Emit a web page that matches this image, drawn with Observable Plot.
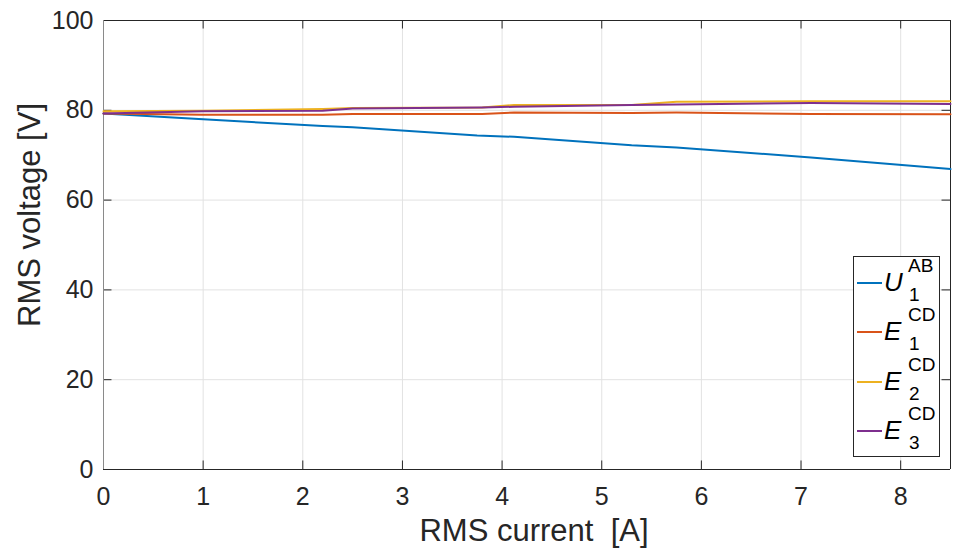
<!DOCTYPE html>
<html>
<head>
<meta charset="utf-8">
<script src="https://cdn.jsdelivr.net/npm/d3@7"></script>
<script src="https://cdn.jsdelivr.net/npm/@observablehq/plot@0.6"></script>
<style>
  body { margin: 0; background: #fff; }
  #wrap { position: relative; width: 961px; height: 553px; font-family: "Liberation Sans", Arial, sans-serif; }
  #legend { position: absolute; left: 853px; top: 256px; width: 87px; height: 201px; border: 1px solid #262626; background: #fff; box-sizing: border-box; }
  .item { position: absolute; left: 0; width: 85px; height: 50px; }
  .item .ln { position: absolute; left: 3px; width: 25px; height: 2px; top: 24px; }
  .item .sym { position: absolute; left: 30px; top: 9px; font-size: 26px; line-height: 30px; font-style: italic; color: #000; }
  .item .sup { position: absolute; left: 54px; top: -2px; font-size: 19px; line-height: 20px; color: #000; }
  .item .sub { position: absolute; left: 55px; top: 27px; font-size: 19px; line-height: 20px; color: #000; }
</style>
</head>
<body>
<div id="wrap"></div>
<script>
const xTicks = [0, 1, 2, 3, 4, 5, 6, 7, 8];
const yTicks = [0, 20, 40, 60, 80, 100];

const currentU = [0, 1, 2.2, 2.5, 3.75, 4.12, 5.3, 5.75, 7.1, 8.5];
const U1AB = [79.3, 78.0, 76.5, 76.2, 74.4, 74.1, 72.2, 71.7, 69.5, 66.9];

const currentE = [0, 1, 2.2, 2.5, 3.8, 4.12, 5.3, 5.75, 7.1, 8.5];
const E1CD = [79.3, 79.0, 79.0, 79.2, 79.2, 79.5, 79.4, 79.5, 79.2, 79.1];
const E2CD = [79.8, 79.9, 80.3, 80.5, 80.6, 81.2, 81.2, 81.9, 82.0, 82.0];
const E3CD = [79.3, 79.8, 79.9, 80.4, 80.6, 80.8, 81.2, 81.3, 81.6, 81.4];

const seriesNames = ["U1AB", "E1CD", "E2CD", "E3CD"];
const seriesColors = ["#0072BD", "#D95319", "#EDB120", "#7E2F8E"];
const legendSym = ["U", "E", "E", "E"];
const legendSup = ["AB", "CD", "CD", "CD"];
const legendSub = ["1", "1", "2", "3"];

const xLabel = "RMS current\u00a0\u00a0[A]";
const yLabel = "RMS voltage [V]";

const rows = [];
currentU.forEach((c, i) => rows.push({ s: "U1AB", x: c, y: U1AB[i] }));
currentE.forEach((c, i) => rows.push({ s: "E1CD", x: c, y: E1CD[i] }));
currentE.forEach((c, i) => rows.push({ s: "E2CD", x: c, y: E2CD[i] }));
currentE.forEach((c, i) => rows.push({ s: "E3CD", x: c, y: E3CD[i] }));

const axisColor = "#262626";
const chart = Plot.plot({
  width: 961, height: 553,
  marginLeft: 103, marginRight: 11, marginTop: 20, marginBottom: 84,
  style: { fontFamily: "Liberation Sans, Arial, sans-serif", background: "#fff", color: axisColor },
  x: { domain: [0, 8.5] },
  y: { domain: [0, 100] },
  color: { domain: seriesNames, range: seriesColors },
  marks: [
    Plot.ruleX(xTicks.slice(1), { stroke: "#e2e2e2", strokeWidth: 1 }),
    Plot.ruleY(yTicks.slice(1, -1), { stroke: "#e2e2e2", strokeWidth: 1 }),
    // inward tick marks
    Plot.ruleY(yTicks, { x1: 0, x2: 0.085, stroke: axisColor, strokeWidth: 1 }),
    Plot.ruleY(yTicks, { x1: 8.415, x2: 8.5, stroke: axisColor, strokeWidth: 1 }),
    Plot.ruleX(xTicks, { y1: 0, y2: 1.9, stroke: axisColor, strokeWidth: 1 }),
    Plot.ruleX(xTicks, { y1: 98.1, y2: 100, stroke: axisColor, strokeWidth: 1 }),
    // box
    Plot.ruleY([0, 100], { stroke: axisColor, strokeWidth: 1 }),
    Plot.ruleX([8.5], { stroke: axisColor, strokeWidth: 1 }),
    Plot.ruleX([0], { stroke: "#8a8a8a", strokeWidth: 1 }),
    Plot.line(rows, { x: "x", y: "y", z: "s", stroke: "s", strokeWidth: 2 }),
    Plot.axisX(xTicks, { tickSize: 0, tickPadding: 18, fontSize: 25, label: null, fill: axisColor }),
    Plot.axisY(yTicks, { tickSize: 0, tickPadding: 10, fontSize: 25, label: null, fill: axisColor }),
    Plot.text([xLabel], { frameAnchor: "bottom", lineAnchor: "middle", dx: 7, dy: 62, fontSize: 31, fill: axisColor }),
    Plot.text([yLabel], { frameAnchor: "left", textAnchor: "middle", lineAnchor: "middle", dx: -73, dy: -30, rotate: -90, fontSize: 31, fill: axisColor })
  ]
});
const wrap = document.getElementById("wrap");
wrap.appendChild(chart);

const legend = document.createElement("div");
legend.id = "legend";
seriesNames.forEach((n, i) => {
  const it = document.createElement("div");
  it.className = "item";
  it.style.top = (1 + i * 49.3) + "px";
  it.innerHTML = `<div class="ln" style="background:${seriesColors[i]}"></div>` +
    `<span class="sym">${legendSym[i]}</span>` +
    `<span class="sup">${legendSup[i]}</span>` +
    `<span class="sub">${legendSub[i]}</span>`;
  legend.appendChild(it);
});
wrap.appendChild(legend);
</script>
</body>
</html>
